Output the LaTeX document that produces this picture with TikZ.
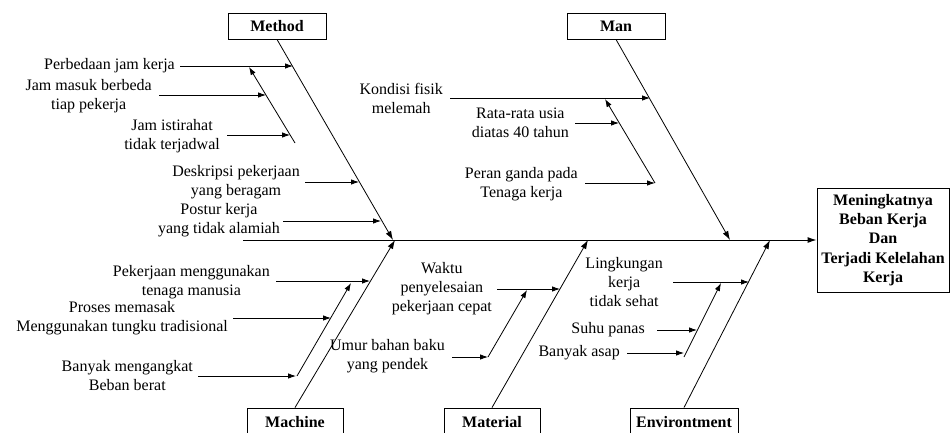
\documentclass[tikz,border=0pt]{standalone}
\usepackage{fontspec}
\setmainfont{Liberation Serif}
\usetikzlibrary{arrows.meta}
\begin{document}
\begin{tikzpicture}[x=1pt,y=-1pt,
  every node/.style={font=\fontsize{16}{19}\selectfont},
  catbox/.style={draw, line width=0.9pt, inner sep=0pt, minimum height=26pt, font=\fontsize{16}{19}\selectfont\bfseries},
  cause/.style={anchor=east, align=center, inner sep=0pt},
  bone/.style={line width=0.8pt, -{Latex[length=9pt,width=6pt]}},
  sub/.style={line width=0.8pt, -{Latex[length=8pt,width=5.5pt]}}]
\useasboundingbox (0,0) rectangle (950,432);

% category boxes
\node[catbox, minimum width=98pt] (method) at (277,26) {Method};
\node[catbox, minimum width=98pt] (man) at (616,26) {Man};
\node[catbox, minimum width=96pt, minimum height=28pt] (machine) at (295,422) {Machine};
\node[catbox, minimum width=96pt, minimum height=28pt] (material) at (492,422) {Material};
\node[catbox, minimum width=108pt, minimum height=28pt] (environ) at (684,422) {Environtment};
\node[draw, line width=0.9pt, minimum width=132pt, minimum height=104pt, align=center, inner sep=0pt,
  font=\fontsize{16}{19.2}\selectfont\bfseries] (effect) at (883,240)
  {Meningkatnya\\Beban Kerja\\Dan\\Terjadi Kelelahan\\Kerja};

% spine
\coordinate (spstart) at (243,240);
\draw[bone, line width=1pt] (spstart) -- (effect.west);

% main bone tips
\coordinate (methodtip) at (393,240);
\coordinate (mantip) at (730,240);
\coordinate (machinetip) at (395,240);
\coordinate (materialtip) at (588,240);
\coordinate (environtip) at (770,240);
\draw[bone] (method.south) -- (methodtip);
\draw[bone] (man.south) -- (mantip);
\draw[bone] (machine.north) -- (machinetip);
\draw[bone] (material.north) -- (materialtip);
\draw[bone] (environ.north) -- (environtip);

% ---- Method causes
\node[cause] (t1) at (175,66) {Perbedaan jam kerja};
\node[cause] (t2) at (152,96) {Jam masuk berbeda\\tiap pekerja};
\node[cause] (t3) at (220,136) {Jam istirahat\\tidak terjadwal};
\node[cause] (t4) at (300,182) {Deskripsi pekerjaan\\yang beragam};
\node[cause] (t5) at (280,220) {Postur kerja\\yang tidak alamiah};
\coordinate (a1s) at (180,66);  \coordinate (a1e) at (293,66);
\coordinate (m1s) at (295,143); \coordinate (m1e) at (249,67);
\coordinate (a2s) at (159,95);  \coordinate (a2e) at (266,95);
\coordinate (a3s) at (227,135); \coordinate (a3e) at (290,135);
\coordinate (a4s) at (305,182); \coordinate (a4e) at (359,182);
\coordinate (a5s) at (283,221); \coordinate (a5e) at (381,221);
\draw[sub] (a1s) -- (a1e);
\draw[sub] (m1s) -- (m1e);
\draw[sub] (a2s) -- (a2e);
\draw[sub] (a3s) -- (a3e);
\draw[sub] (a4s) -- (a4e);
\draw[sub] (a5s) -- (a5e);

% ---- Man causes
\node[cause] (t6) at (443,98) {Kondisi fisik\\melemah};
\node[cause] (t7) at (569,123) {Rata-rata usia\\diatas 40 tahun};
\node[cause] (t8) at (578,184) {Peran ganda pada\\Tenaga kerja};
\coordinate (a6s) at (450,98);  \coordinate (a6e) at (650,98);
\coordinate (n1s) at (655,183); \coordinate (n1e) at (605,99);
\coordinate (a7s) at (575,123); \coordinate (a7e) at (619,123);
\coordinate (a8s) at (585,183); \coordinate (a8e) at (655,183);
\draw[sub] (a6s) -- (a6e);
\draw[sub] (n1s) -- (n1e);
\draw[sub] (a7s) -- (a7e);
\draw[sub] (a8s) -- (a8e);

% ---- Machine causes
\node[cause] (t9) at (270,282) {Pekerjaan menggunakan\\tenaga manusia};
\node[cause] (t10) at (228,318) {Proses memasak\\Menggunakan tungku tradisional};
\node[cause] (t11) at (193,376) {Banyak mengangkat\\Beban berat};
\coordinate (a9s) at (276,281);  \coordinate (a9e) at (370,281);
\coordinate (k1s) at (297,376);  \coordinate (k1e) at (351,283);
\coordinate (a10s) at (233,318); \coordinate (a10e) at (331,318);
\coordinate (a11s) at (198,376); \coordinate (a11e) at (296,376);
\draw[sub] (a9s) -- (a9e);
\draw[sub] (k1s) -- (k1e);
\draw[sub] (a10s) -- (a10e);
\draw[sub] (a11s) -- (a11e);

% ---- Material causes
\node[cause] (t12) at (492,289) {Waktu\\penyelesaian\\pekerjaan cepat};
\node[cause] (t13) at (445,356) {Umur bahan baku\\yang pendek};
\coordinate (a12s) at (497,289); \coordinate (a12e) at (560,289);
\coordinate (r1s) at (488,357);  \coordinate (r1e) at (527,290);
\coordinate (a13s) at (452,357); \coordinate (a13e) at (488,357);
\draw[sub] (a12s) -- (a12e);
\draw[sub] (r1s) -- (r1e);
\draw[sub] (a13s) -- (a13e);

% ---- Environment causes
\node[cause] (t14) at (663,282) {Lingkungan\\kerja\\tidak sehat};
\node[cause] (t15) at (645,330) {Suhu panas};
\node[cause] (t16) at (620,353) {Banyak asap};
\coordinate (a14s) at (673,282); \coordinate (a14e) at (749,282);
\coordinate (e1s) at (684,357);  \coordinate (e1e) at (721,283);
\coordinate (a15s) at (657,330); \coordinate (a15e) at (697,330);
\coordinate (a16s) at (627,353); \coordinate (a16e) at (684,353);
\draw[sub] (a14s) -- (a14e);
\draw[sub] (e1s) -- (e1e);
\draw[sub] (a15s) -- (a15e);
\draw[sub] (a16s) -- (a16e);
\end{tikzpicture}
\end{document}
